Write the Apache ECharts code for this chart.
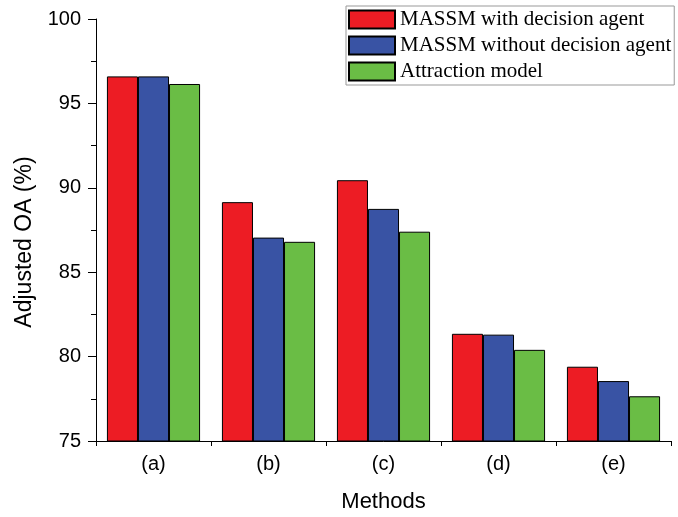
<!DOCTYPE html>
<html>
<head>
<meta charset="utf-8">
<script src="https://cdn.jsdelivr.net/npm/echarts@6/dist/echarts.min.js"></script>
<style>
html,body{margin:0;padding:0;background:#fff;}
#chart{width:678px;height:517px;}
</style>
</head>
<body>
<div id="chart"></div>
<script>
const categories = ['(a)', '(b)', '(c)', '(d)', '(e)'];
const seriesNames = ['MASSM with decision agent', 'MASSM without decision agent', 'Attraction model'];
const withAgent = [96.6, 89.15, 90.45, 81.35, 79.4];
const withoutAgent = [96.6, 87.05, 88.75, 81.3, 78.55];
const attraction = [96.15, 86.8, 87.4, 80.4, 77.65];
const yTicks = [75, 80, 85, 90, 95, 100];

const colors = ['#ED1C24', '#3953A4', '#6ABD45'];
const values = [withAgent, withoutAgent, attraction];

const chart = echarts.init(document.getElementById('chart'), null, {renderer: 'canvas'});
const sansFont = 'Liberation Sans, Arial, sans-serif';

chart.setOption({
  animation: false,
  backgroundColor: '#fff',
  grid: {left: 96, right: 7, top: 19, bottom: 76, containLabel: false, outerBoundsMode: 'none'},
  legend: {
    orient: 'vertical',
    left: 346,
    top: 6,
    padding: [3, 3, 3, 2],
    itemWidth: 46,
    itemHeight: 18,
    itemGap: 5,
    icon: 'rect',
    borderColor: '#999',
    borderWidth: 1,
    data: seriesNames,
    textStyle: {fontFamily: 'Liberation Serif, Times New Roman, serif', fontSize: 21, color: '#000', lineHeight: 18}
  },
  xAxis: [{
    type: 'category',
    data: categories,
    name: 'Methods',
    nameLocation: 'middle',
    nameGap: 50,
    nameTextStyle: {fontFamily: sansFont, fontSize: 22, color: '#000'},
    axisLine: {lineStyle: {color: '#000', width: 1}},
    axisTick: {alignWithLabel: true, length: 9, lineStyle: {color: '#000'}},
    axisLabel: {fontFamily: sansFont, fontSize: 20, color: '#000', margin: 13}
  }, {
    type: 'category',
    data: categories,
    position: 'bottom',
    axisLine: {show: false},
    axisTick: {show: true, length: 5, lineStyle: {color: '#000'}},
    axisLabel: {show: false}
  }],
  yAxis: {
    type: 'value',
    min: yTicks[0],
    max: yTicks[yTicks.length - 1],
    interval: 5,
    name: 'Adjusted OA (%)',
    nameLocation: 'middle',
    nameGap: 60,
    nameTextStyle: {fontFamily: sansFont, fontSize: 23, color: '#000', padding: [0, 24, 0, 0]},
    axisLine: {show: true, lineStyle: {color: '#000', width: 1}},
    axisTick: {show: true, length: 8, lineStyle: {color: '#000'}},
    minorTick: {show: true, splitNumber: 2, length: 5, lineStyle: {color: '#000'}},
    splitLine: {show: false},
    axisLabel: {fontFamily: sansFont, fontSize: 20, color: '#000', margin: 15}
  },
  series: seriesNames.map((name, i) => ({
    name: name,
    type: 'bar',
    data: values[i],
    barGap: '0%',
    barCategoryGap: '19%',
    itemStyle: {color: colors[i], borderColor: '#000', borderWidth: 1}
  }))
});
</script>
</body>
</html>
